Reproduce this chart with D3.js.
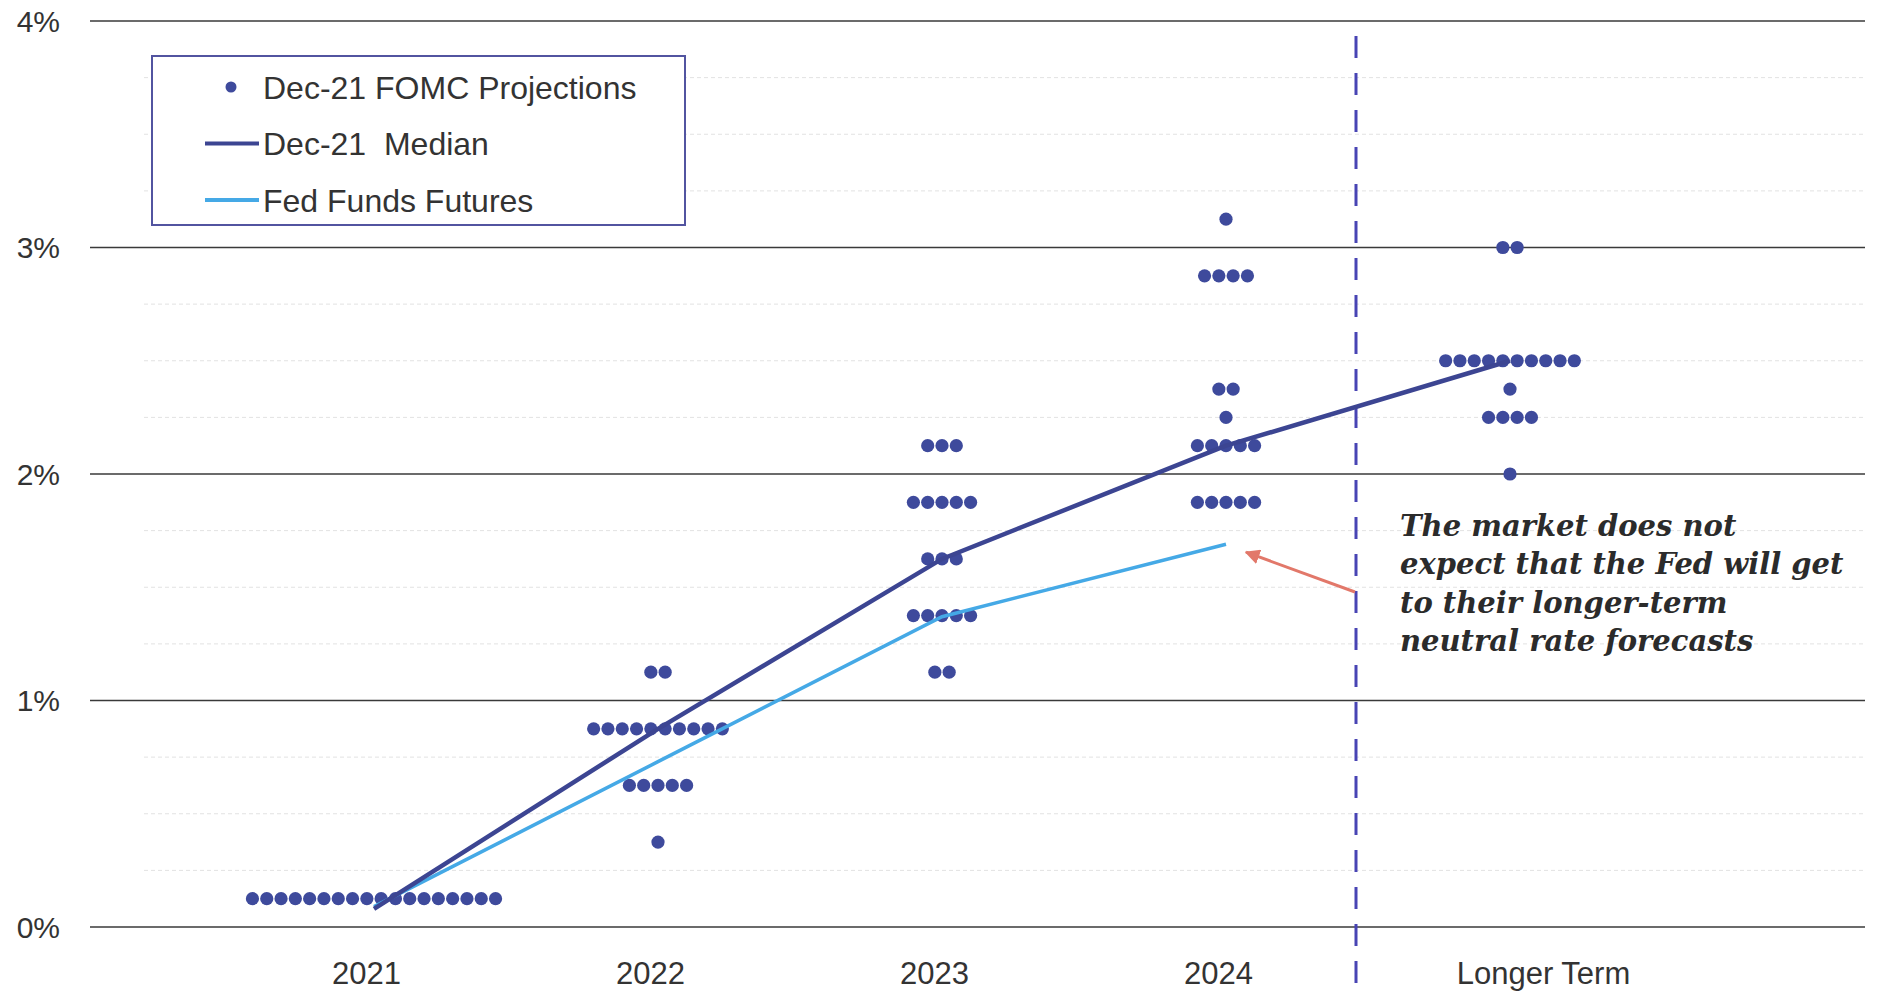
<!DOCTYPE html>
<html lang="en">
<head>
  <meta charset="utf-8">
  <script src="https://cdn.jsdelivr.net/npm/d3@7"></script>
</head>
<style>
  body{margin:0;background:#fff;}
  text{font-family:"Liberation Sans",Arial,sans-serif;fill:#333;}
  .note{font-family:"DejaVu Serif",Georgia,serif;font-style:italic;font-weight:bold;fill:#2b2b2b;}
</style>
<body>
  <div id="chart"></div>
  <script>
    var width=1879, height=991;

    // data
    var categories=["2021","2022","2023","2024","Longer Term"];
    var yTicks=[0,1,2,3,4];
    var quarterLines=[0.25,0.5,0.75,1.25,1.5,1.75,2.25,2.5,2.75,3.25,3.5,3.75];

    // FOMC dots: one row per (category, rate) with the number of participants
    var dotCategory=["2021","2022","2022","2022","2022",
                     "2023","2023","2023","2023","2023",
                     "2024","2024","2024","2024","2024","2024",
                     "Longer Term","Longer Term","Longer Term","Longer Term","Longer Term"];
    var dotRate=[0.125,1.125,0.875,0.625,0.375,
                 2.125,1.875,1.625,1.375,1.125,
                 3.125,2.875,2.375,2.25,2.125,1.875,
                 3.0,2.5,2.375,2.25,2.0];
    var dotCount=[18,2,10,5,1,
                  3,5,3,5,2,
                  1,4,2,1,5,5,
                  2,10,1,4,1];

    var medianValues=[0.08,0.875,1.625,2.125,2.5];
    var futuresValues=[0.09,0.73,1.37,1.69];

    var legendLabels=["Dec-21 FOMC Projections","Dec-21  Median","Fed Funds Futures"];
    var noteLines=["The market does not","expect that the Fed will get","to their longer-term","neutral rate forecasts"];

    var dotColor="#3e4a9c", medianColor="#3c4592", futuresColor="#45a9e6";

    var svg=d3.select("#chart").append("svg")
      .attr("width",width)
      .attr("height",height);

    var x=d3.scalePoint().domain(categories).range([374,1510]);
    var y=d3.scaleLinear().domain([0,4]).range([927,21]);
    var left=90, right=1865;

    //faint quarter grid
    svg.append("g").selectAll("line")
      .data(quarterLines)
      .enter()
      .append("line")
      .attr("x1",144).attr("x2",right)
      .attr("y1",function(d){return y(d);})
      .attr("y2",function(d){return y(d);})
      .style("stroke","#e2e2e2")
      .style("stroke-width",1)
      .style("stroke-dasharray","4,3");

    //major grid
    svg.append("g").selectAll("line")
      .data(yTicks)
      .enter()
      .append("line")
      .attr("x1",left).attr("x2",right)
      .attr("y1",function(d){return y(d);})
      .attr("y2",function(d){return y(d);})
      .style("stroke","#3a3a3a")
      .style("stroke-width",1.6);

    //y labels
    svg.append("g").selectAll("text")
      .data(yTicks)
      .enter()
      .append("text")
      .attr("x",60)
      .attr("y",function(d){return y(d);})
      .attr("dy","0.36em")
      .attr("text-anchor","end")
      .style("font-size","30px")
      .text(function(d){return d+"%";});

    //x labels
    var xAxis=d3.axisBottom(x).tickSize(0).tickPadding(35);
    var gx=svg.append("g")
      .attr("transform","translate(0,"+y(0)+")")
      .call(xAxis);
    gx.select(".domain").remove();
    gx.selectAll("text")
      .style("font-size","31px")
      .style("font-family","'Liberation Sans',Arial,sans-serif")
      .style("fill","#333")
      .attr("dx",function(d){return d=="Longer Term"?33:-8;});

    //dashed separator between 2024 and longer term
    var sepX=(x("2024")+x("Longer Term"))/2-12;
    svg.append("line")
      .attr("x1",sepX).attr("x2",sepX)
      .attr("y1",36).attr("y2",height)
      .style("stroke","#4844b4")
      .style("stroke-width",3)
      .style("stroke-dasharray","22,15");

    //dots
    var dotStep=14.3;
    var dots=[];
    dotRate.forEach(function(r,i){
      for(var k=0;k<dotCount[i];k++){
        dots.push({cat:dotCategory[i],rate:r,offset:(k-(dotCount[i]-1)/2)*dotStep});
      }
    });

    svg.append("g").selectAll("circle")
      .data(dots)
      .enter()
      .append("circle")
      .attr("cx",function(d){return x(d.cat)+d.offset;})
      .attr("cy",function(d){return y(d.rate);})
      .attr("r",6.6)
      .attr("fill",dotColor);

    //lines
    var line=d3.line()
      .x(function(d){return x(d.cat);})
      .y(function(d){return y(d.v);});

    svg.append("path")
      .datum(futuresValues.map(function(v,i){return {cat:categories[i],v:v};}))
      .attr("d",line)
      .attr("fill","none")
      .style("stroke",futuresColor)
      .style("stroke-width",3.5);

    svg.append("path")
      .datum(medianValues.map(function(v,i){return {cat:categories[i],v:v};}))
      .attr("d",line)
      .attr("fill","none")
      .style("stroke",medianColor)
      .style("stroke-width",4.5);

    //annotation arrow
    svg.append("defs").append("marker")
      .attr("id","arrow")
      .attr("viewBox","0 0 10 10")
      .attr("refX",9).attr("refY",5)
      .attr("markerWidth",5).attr("markerHeight",5)
      .attr("orient","auto")
      .append("path")
      .attr("d","M0,0L10,5L0,10z")
      .attr("fill","#e2786a");

    var lastFut=futuresValues.length-1;
    svg.append("line")
      .attr("x1",sepX-1).attr("y1",592)
      .attr("x2",x(categories[lastFut])+20).attr("y2",y(futuresValues[lastFut])+8)
      .style("stroke","#e2786a")
      .style("stroke-width",3)
      .attr("marker-end","url(#arrow)");

    svg.append("g").selectAll("text")
      .data(noteLines)
      .enter()
      .append("text")
      .attr("class","note")
      .attr("x",1400)
      .attr("y",function(d,i){return 536+i*38.3;})
      .style("font-size","29px")
      .text(function(d){return d;});

    //legend
    var legend=svg.append("g");
    legend.append("rect")
      .attr("x",152).attr("y",56)
      .attr("width",533).attr("height",169)
      .attr("fill","#fff")
      .style("stroke","#5254a0")
      .style("stroke-width",2);

    var rows=legend.selectAll("g.row")
      .data(legendLabels)
      .enter()
      .append("g")
      .attr("class","row")
      .attr("transform",function(d,i){return "translate(0,"+(87+i*56.5)+")";});

    rows.filter(function(d,i){return i==0;})
      .append("circle")
      .attr("cx",231).attr("cy",0).attr("r",5.5)
      .attr("fill",dotColor);

    rows.filter(function(d,i){return i>0;})
      .append("line")
      .attr("x1",205).attr("x2",259)
      .attr("y1",0).attr("y2",0)
      .style("stroke",function(d,i){return i==0?medianColor:futuresColor;})
      .style("stroke-width",4);

    rows.append("text")
      .attr("x",263)
      .attr("dy","0.36em")
      .style("font-size","32px")
      .style("white-space","pre")
      .text(function(d){return d;});
  </script>
</body>
</html>
